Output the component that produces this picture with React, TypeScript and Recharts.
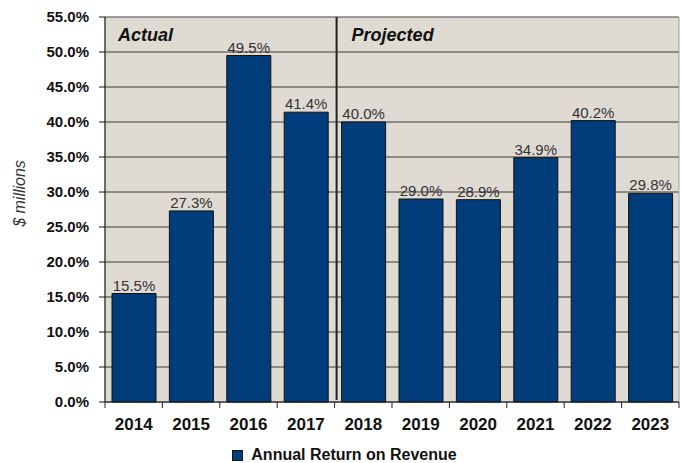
import { BarChart, Bar, XAxis, YAxis, CartesianGrid, Legend, ReferenceArea, LabelList } from 'recharts';

const YEARS = ['2014', '2015', '2016', '2017', '2018', '2019', '2020', '2021', '2022', '2023'];
const RETURN_PCT = [15.5, 27.3, 49.5, 41.4, 40.0, 29.0, 28.9, 34.9, 40.2, 29.8];
const Y_TICKS = [0, 5, 10, 15, 20, 25, 30, 35, 40, 45, 50, 55];
const PHASE_NAMES = ['Actual', 'Projected'];
const PHASE_FIRST = ['2014', '2018'];
const PHASE_LAST = ['2017', '2023'];
const SERIES_NAME = 'Annual Return on Revenue';

const NAVY = '#023d7b';
const PLOT_BG = '#dfdbd3';
const FONT = '"Liberation Sans", Arial, sans-serif';

const chartData = YEARS.map((year, i) => ({ year, value: RETURN_PCT[i] }));

const pct = (v: number) => `${v.toFixed(1)}%`;

// year label plus tick marks on the category boundaries
function YearTick(props: any) {
  const { x, y, payload, index } = props;
  const half = (props.width || 574) / YEARS.length / 2;
  return (
    <g>
      <line x1={x - half} x2={x - half} y1={y} y2={y + 6} stroke="#222" />
      {index === YEARS.length - 1 && <line x1={x + half} x2={x + half} y1={y} y2={y + 6} stroke="#222" />}
      <text x={x} y={y + 28} textAnchor="middle" fontSize={17} fontWeight="bold" fill="#111" fontFamily={FONT}>
        {payload.value}
      </text>
    </g>
  );
}

function YTitle(props: any) {
  const { x, y, height } = props.viewBox;
  const cx = x + 25;
  const cy = y + height / 2 - 16;
  return (
    <text
      x={cx}
      y={cy}
      transform={`rotate(-90 ${cx} ${cy})`}
      textAnchor="middle"
      fontSize={16}
      fontStyle="italic"
      fill="#333"
      fontFamily={FONT}
    >
      $ millions
    </text>
  );
}

function phaseShape(name: string, divider: boolean) {
  return (p: any) => (
    <g>
      {divider && <line x1={p.x + 2} x2={p.x + 2} y1={p.y} y2={p.y + p.height - 2} stroke="#222" strokeWidth={2} />}
      <text
        x={p.x + (divider ? 17 : 13)}
        y={p.y + 24}
        fontSize={18}
        fontWeight="bold"
        fontStyle="italic"
        fill="#111"
        fontFamily={FONT}
      >
        {name}
      </text>
    </g>
  );
}

function LegendBox() {
  return (
    <div style={{ height: 30, display: 'flex', alignItems: 'flex-end', justifyContent: 'center', paddingLeft: 10 }}>
      <div style={{ display: 'flex', alignItems: 'center', height: 16 }}>
        <span style={{ width: 9, height: 9, background: NAVY, border: '1px solid #111', marginRight: 8 }} />
        <span style={{ fontSize: 16, fontWeight: 'bold', color: '#111', lineHeight: '16px', fontFamily: FONT }}>
          {SERIES_NAME}
        </span>
      </div>
    </div>
  );
}

export default function App() {
  return (
    <div style={{ position: 'absolute', left: 0, top: 0, width: 683, height: 463, background: '#fff', fontFamily: FONT }}>
      <BarChart width={683} height={463} data={chartData} margin={{ top: 17, right: 4, left: 0, bottom: 0 }}>
        <CartesianGrid vertical={false} fill={PLOT_BG} stroke="#3a3a3a" />
        <ReferenceArea x1={YEARS[0]} x2={YEARS[YEARS.length - 1]} y1={0} y2={55} fill="none" stroke="#a0a0a0" />
        <XAxis
          dataKey="year"
          interval={0}
          tickLine={false}
          tickSize={0}
          tickMargin={0}
          height={31}
          axisLine={{ stroke: '#222' }}
          tick={<YearTick />}
        />
        <YAxis
          domain={[0, 55]}
          ticks={Y_TICKS}
          interval={0}
          width={105}
          tickSize={6}
          tickMargin={10}
          tickFormatter={pct}
          axisLine={{ stroke: '#111' }}
          tickLine={{ stroke: '#111' }}
          tick={{ fontSize: 15, fontWeight: 'bold', fill: '#111', fontFamily: FONT }}
          label={<YTitle />}
        />
        <Legend verticalAlign="bottom" content={<LegendBox />} />
        <Bar dataKey="value" name={SERIES_NAME} fill={NAVY} stroke="#111" barSize={44} isAnimationActive={false}>
          <LabelList dataKey="value" position="top" offset={3} formatter={(v: any) => pct(Number(v))} fill="#333" fontSize={15} fontFamily={FONT} />
        </Bar>
        {PHASE_NAMES.map((name, i) => (
          <ReferenceArea
            key={name}
            x1={PHASE_FIRST[i]}
            x2={PHASE_LAST[i]}
            y1={0}
            y2={55}
            fill="none"
            shape={phaseShape(name, i > 0)}
          />
        ))}
      </BarChart>
    </div>
  );
}
